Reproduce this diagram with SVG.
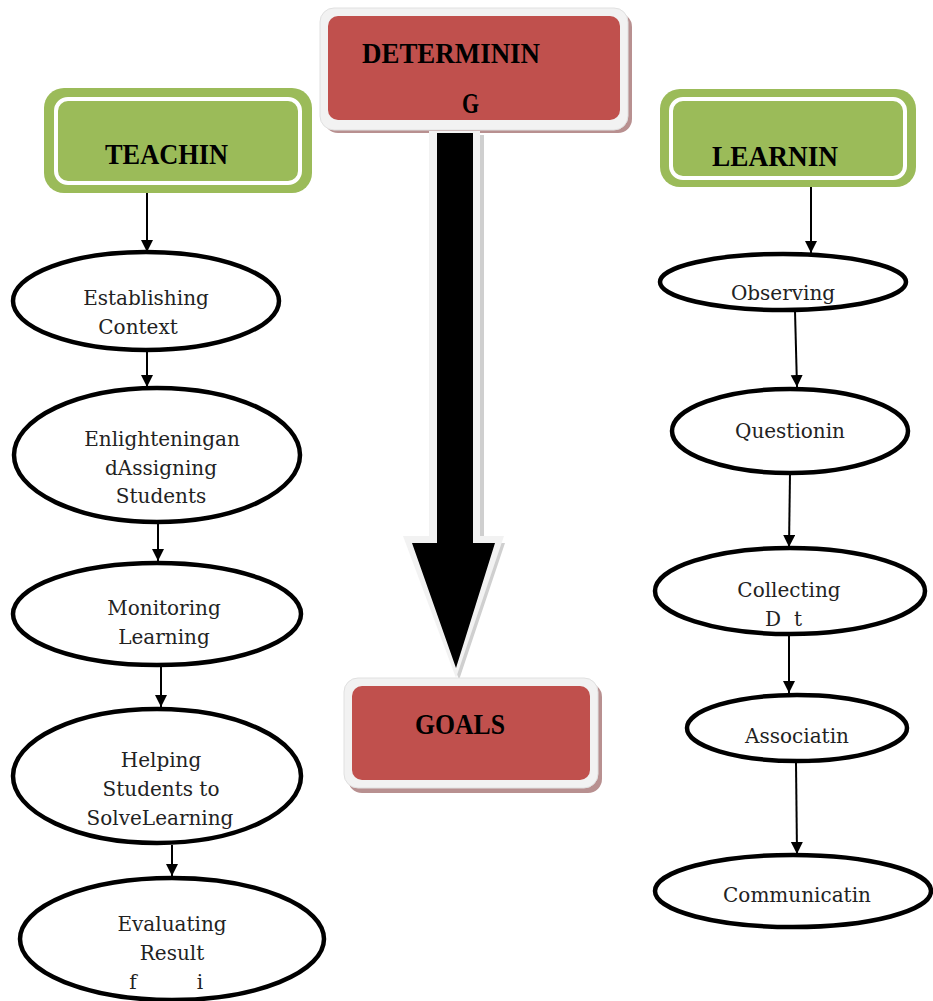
<svg xmlns="http://www.w3.org/2000/svg" width="933" height="1001" viewBox="0 0 933 1001">
<defs>
<marker id="ah" markerWidth="14" markerHeight="14" refX="12" refY="6" orient="auto" markerUnits="userSpaceOnUse">
<path d="M0,0 L12,6 L0,12 Z" fill="#000"/>
</marker>
</defs>
<style>
.g-out{fill:#9bbb59;}
.g-in{fill:#9bbb59;stroke:#ffffff;stroke-width:4;}
.r-sh{fill:#b89090;}
.r-out{fill:#f2f2f2;stroke:#e0e0e0;stroke-width:1;}
.r-in{fill:#c0504d;}
.head{font-family:"Liberation Serif",serif;font-weight:bold;font-size:30px;fill:#000;}
.ell{fill:#fff;stroke:#000;stroke-width:4.5;}
.lbl{font-family:"DejaVu Serif",serif;font-size:20px;fill:#222;text-anchor:middle;}
.conn{stroke:#000;stroke-width:2;fill:none;marker-end:url(#ah);}
</style>
<rect width="933" height="1001" fill="#fff"/>

<g id="teaching">
<rect class="g-out" x="44" y="88" width="268" height="105" rx="20"/>
<rect class="g-in" x="56" y="99" width="244" height="84" rx="12"/>
<text class="head" x="105" y="164" textLength="123" lengthAdjust="spacingAndGlyphs">TEACHIN</text>
</g>

<g id="determining">
<rect class="r-sh" x="324" y="13" width="308" height="120" rx="14"/>
<rect class="r-out" x="320" y="8" width="308" height="122" rx="14"/>
<rect class="r-in" x="328" y="16" width="292" height="104" rx="10"/>
<text class="head" x="362" y="63" textLength="178" lengthAdjust="spacingAndGlyphs">DETERMININ</text>
<text class="head" x="462" y="113" textLength="17" lengthAdjust="spacingAndGlyphs">G</text>
</g>

<g id="big-arrow">
<path d="M431,133 L481,133 L481,541 L502,541 L456,678 L410,541 L431,541 Z" fill="#cfcfcf" transform="translate(3,2)"/>
<path d="M429,131 L480,131 L480,536 L504,536 L456,678 L403,536 L429,536 Z" fill="#f2f2f2"/>
<path d="M437,133 L473,133 L473,543 L495,543 L456,668 L412,543 L437,543 Z" fill="#000"/>
</g>

<g id="goals">
<rect class="r-sh" x="348" y="683" width="254" height="110" rx="14"/>
<rect class="r-out" x="344" y="678" width="254" height="110" rx="14"/>
<rect class="r-in" x="352" y="686" width="238" height="94" rx="10"/>
<text class="head" x="415" y="734" textLength="90" lengthAdjust="spacingAndGlyphs">GOALS</text>
</g>

<g id="learning">
<rect class="g-out" x="660" y="89" width="256" height="98" rx="20"/>
<rect class="g-in" x="671" y="99" width="234" height="79" rx="12"/>
<text class="head" x="712" y="166" textLength="126" lengthAdjust="spacingAndGlyphs">LEARNIN</text>
</g>

<g id="establishing">
<ellipse class="ell" cx="146" cy="301" rx="133" ry="49"/>
<text class="lbl" x="146" y="305">Establishing</text>
<text class="lbl" x="138" y="334">Context</text>
</g>

<g id="enlightening">
<ellipse class="ell" cx="157" cy="455" rx="143" ry="67"/>
<text class="lbl" x="162" y="446">Enlighteningan</text>
<text class="lbl" x="161" y="475">dAssigning</text>
<text class="lbl" x="161" y="503">Students</text>
</g>

<g id="monitoring">
<ellipse class="ell" cx="157" cy="614" rx="144" ry="51"/>
<text class="lbl" x="164" y="615">Monitoring</text>
<text class="lbl" x="164" y="644">Learning</text>
</g>

<g id="helping">
<ellipse class="ell" cx="157" cy="776" rx="144" ry="67"/>
<text class="lbl" x="161" y="767">Helping</text>
<text class="lbl" x="161" y="796">Students to</text>
<text class="lbl" x="160" y="825">SolveLearning</text>
</g>

<g id="evaluating">
<ellipse class="ell" cx="172" cy="939" rx="152" ry="61"/>
<text class="lbl" x="172" y="931">Evaluating</text>
<text class="lbl" x="172" y="960">Result</text>
<text class="lbl" x="133" y="989">f</text>
<text class="lbl" x="200" y="989">i</text>
</g>

<g id="observing">
<ellipse class="ell" cx="783" cy="282" rx="123" ry="28"/>
<text class="lbl" x="783" y="300">Observing</text>
</g>

<g id="questioning">
<ellipse class="ell" cx="790" cy="431" rx="118" ry="42"/>
<text class="lbl" x="790" y="438">Questionin</text>
</g>

<g id="collecting">
<ellipse class="ell" cx="790" cy="591" rx="135" ry="43"/>
<text class="lbl" x="789" y="597">Collecting</text>
<text class="lbl" x="773" y="626">D</text>
<text class="lbl" x="798" y="626">t</text>
</g>

<g id="associating">
<ellipse class="ell" cx="797" cy="728" rx="110" ry="33"/>
<text class="lbl" x="797" y="743">Associatin</text>
</g>

<g id="communicating">
<ellipse class="ell" cx="793" cy="891" rx="138" ry="36"/>
<text class="lbl" x="797" y="902">Communicatin</text>
</g>

<g id="connectors">
<line class="conn" x1="147" y1="193" x2="147" y2="252"/>
<line class="conn" x1="147" y1="352" x2="147" y2="387"/>
<line class="conn" x1="158" y1="523" x2="158" y2="561"/>
<line class="conn" x1="161" y1="667" x2="161" y2="707"/>
<line class="conn" x1="172" y1="845" x2="172" y2="876"/>
<line class="conn" x1="811" y1="187" x2="811" y2="253"/>
<line class="conn" x1="795" y1="311" x2="797" y2="387"/>
<line class="conn" x1="790" y1="474" x2="789" y2="547"/>
<line class="conn" x1="789" y1="636" x2="789" y2="693"/>
<line class="conn" x1="796" y1="763" x2="797" y2="854"/>
</g>
</svg>
